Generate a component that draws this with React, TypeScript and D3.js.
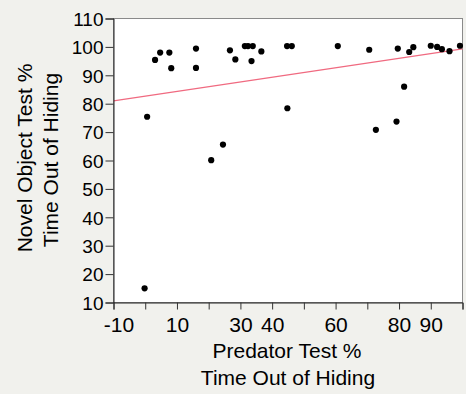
import { useEffect, useRef } from "react";
import * as d3 from "d3";

// Predator test % vs novel object test % (time out of hiding)
const predatorPct = [
  3.1, 4.7, 7.6, 8.2, 16.0, 16.0, 26.7, 28.4, 31.4, 32.4, 33.9, 33.5, 36.6, 44.7,
  46.2, 44.8, 60.7, 70.6, 79.6, 81.6, 83.2, 84.5, 90.0, 92.0, 93.5, 95.9, 99.2,
  0.6, 20.8, 24.5, 72.7, 79.2, -0.2,
];
const novelPct = [
  95.4, 98.0, 98.0, 92.5, 99.4, 92.6, 98.8, 95.6, 100.3, 100.3, 100.3, 95.0, 98.4,
  100.3, 100.3, 78.4, 100.3, 99.0, 99.4, 86.0, 98.2, 99.9, 100.4, 100.0, 99.2, 98.5,
  100.4, 75.4, 60.1, 65.6, 70.8, 73.7, 15.0,
];
const fitX = [-10, 100];
const fitY = [81.0, 99.3];
const xTicks = [-10, 0, 10, 20, 30, 40, 50, 60, 70, 80, 90, 100];
const xLabels = [-10, 10, 30, 40, 60, 80, 90];
const yTicks = [10, 20, 30, 40, 50, 60, 70, 80, 90, 100, 110];

const W = 466;
const H = 394;
const FONT = "'Liberation Sans', Arial, sans-serif";

export default function App() {
  const svgRef = useRef<SVGSVGElement>(null);

  useEffect(() => {
    if (!svgRef.current) return;
    const svg = d3.select(svgRef.current);
    svg.selectAll("*").remove();

    const left = 113.5;
    const right = 462.5;
    const top = 18.5;
    const bottom = 302.5;

    const x = d3.scaleLinear().domain([-10, 100]).range([left, right]);
    const y = d3.scaleLinear().domain([10, 110]).range([bottom, top]);

    svg.append("rect").attr("width", W).attr("height", H).attr("fill", "#f1f1ed");

    svg
      .append("rect")
      .attr("x", left)
      .attr("y", top)
      .attr("width", right - left)
      .attr("height", bottom - top)
      .attr("fill", "white")
      .attr("stroke", "#8a8a8a")
      .attr("stroke-width", 1);

    // fit line
    svg
      .append("line")
      .attr("x1", x(fitX[0]))
      .attr("y1", y(fitY[0]))
      .attr("x2", x(fitX[1]))
      .attr("y2", y(fitY[1]))
      .attr("stroke", "#f06a80")
      .attr("stroke-width", 1.2);

    svg
      .append("g")
      .selectAll("circle")
      .data(predatorPct.map((v, i) => [v, novelPct[i]]))
      .join("circle")
      .attr("cx", (d) => x(d[0]))
      .attr("cy", (d) => y(d[1]))
      .attr("r", 3.1)
      .attr("fill", "#000");

    const xAxis = svg
      .append("g")
      .attr("transform", `translate(0,${bottom})`)
      .call(
        d3
          .axisBottom(x)
          .tickValues(xTicks)
          .tickSize(7)
          .tickPadding(4)
          .tickFormat((d) => (xLabels.includes(d as number) ? String(d) : "")),
      );

    const yAxis = svg
      .append("g")
      .attr("transform", `translate(${left},0)`)
      .call(d3.axisLeft(y).tickValues(yTicks).tickSize(8).tickPadding(2));

    [xAxis, yAxis].forEach((g) => {
      g.attr("font-size", null).attr("font-family", null);
      g.select(".domain").attr("stroke", "#222");
      g.selectAll(".tick line").attr("stroke", "#333");
      g.selectAll("text").style("font-family", FONT).attr("fill", "#000");
    });
    xAxis.selectAll("text").style("font-size", "21px").attr("dy", null).attr("y", 29);
    xAxis
      .selectAll<SVGTextElement, number>("text")
      .filter((d) => d === -10)
      .attr("dx", 5);
    yAxis.selectAll("text").style("font-size", "19px").attr("dy", "0.36em");

    // axis titles
    const xt = svg
      .append("text")
      .style("font-family", FONT)
      .style("font-size", "21px")
      .attr("text-anchor", "middle");
    xt.append("tspan").attr("x", 287).attr("y", 358).text("Predator Test %");
    xt.append("tspan").attr("x", 288).attr("y", 385).text("Time Out of Hiding");

    const yt = svg
      .append("text")
      .style("font-family", FONT)
      .style("font-size", "21px")
      .attr("text-anchor", "middle")
      .attr("transform", "rotate(-90)");
    yt.append("tspan").attr("x", -158).attr("y", 32).text("Novel Object Test %");
    yt.append("tspan").attr("x", -160).attr("y", 58).text("Time Out of Hiding");
  }, []);

  return (
    <div style={{ position: "fixed", left: 0, top: 0 }}>
      <svg ref={svgRef} width={W} height={H} style={{ display: "block" }} />
    </div>
  );
}
